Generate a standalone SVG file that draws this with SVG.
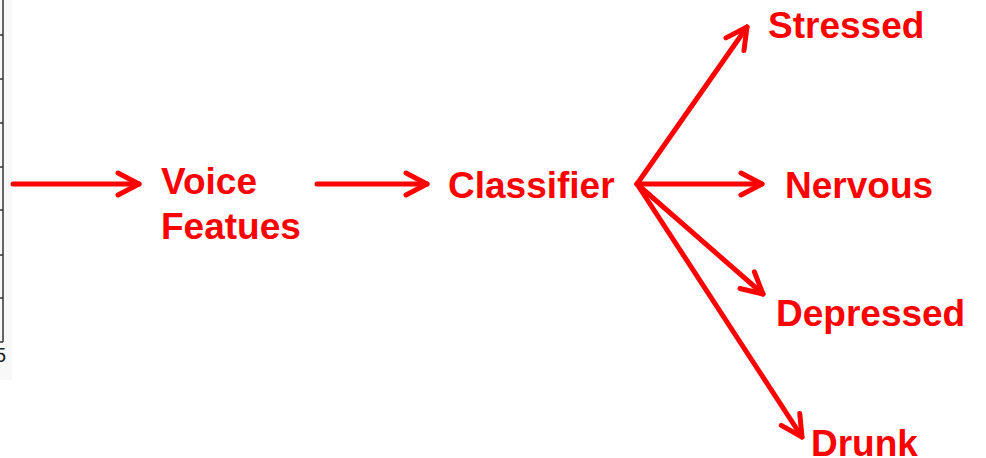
<svg xmlns="http://www.w3.org/2000/svg" width="986" height="458" viewBox="0 0 986 458">
<style>
.lbl{font-family:"Liberation Sans",Arial,sans-serif;font-weight:bold;font-size:37px;fill:#ff0000}
.edge{stroke:#ff0000;stroke-width:5;fill:none;stroke-linecap:round}
.axis{stroke:#333;stroke-width:1.5;fill:none}
</style>
<defs>
<marker id="chev" markerUnits="userSpaceOnUse" viewBox="-24 -14 28 28" refX="0" refY="0" markerWidth="28" markerHeight="28" orient="auto">
<path d="M-21,-11 L0,0 L-21,11" stroke="#ff0000" stroke-width="5" fill="none" stroke-linecap="round" stroke-linejoin="round"/>
</marker>
</defs>
<rect width="986" height="458" fill="#fff"/>
<g id="axis-fragment">
<rect x="0" y="0" width="12" height="380" fill="#f8f8f8"/>
<path class="axis" d="M3,0 V342 M0,35 H3 M0,79 H3 M0,123 H3 M0,167 H3 M0,210 H3 M0,255 H3 M0,298 H3 M0,342 H3"/>
<text x="6" y="362" text-anchor="end" font-family="Liberation Sans,Arial,sans-serif" font-size="20" fill="#222">5</text>
</g>
<g id="connectors">
<line class="edge" x1="13" y1="184" x2="139" y2="184" marker-end="url(#chev)"/>
<line class="edge" x1="317" y1="184" x2="427" y2="184" marker-end="url(#chev)"/>
<line class="edge" x1="637" y1="184" x2="747" y2="27" marker-end="url(#chev)"/>
<line class="edge" x1="637" y1="184" x2="762" y2="184" marker-end="url(#chev)"/>
<line class="edge" x1="637" y1="184" x2="763" y2="294" marker-end="url(#chev)"/>
<line class="edge" x1="637" y1="184" x2="802" y2="437" marker-end="url(#chev)"/>
</g>
<g id="voice-features"><text class="lbl" x="161" y="194">Voice</text><text class="lbl" x="161" y="239">Featues</text></g>
<g id="classifier"><text class="lbl" x="448" y="198">Classifier</text></g>
<g id="stressed"><text class="lbl" x="768" y="38">Stressed</text></g>
<g id="nervous"><text class="lbl" x="785" y="198">Nervous</text></g>
<g id="depressed"><text class="lbl" x="776" y="326">Depressed</text></g>
<g id="drunk"><text class="lbl" x="811" y="456">Drunk</text></g>
</svg>
